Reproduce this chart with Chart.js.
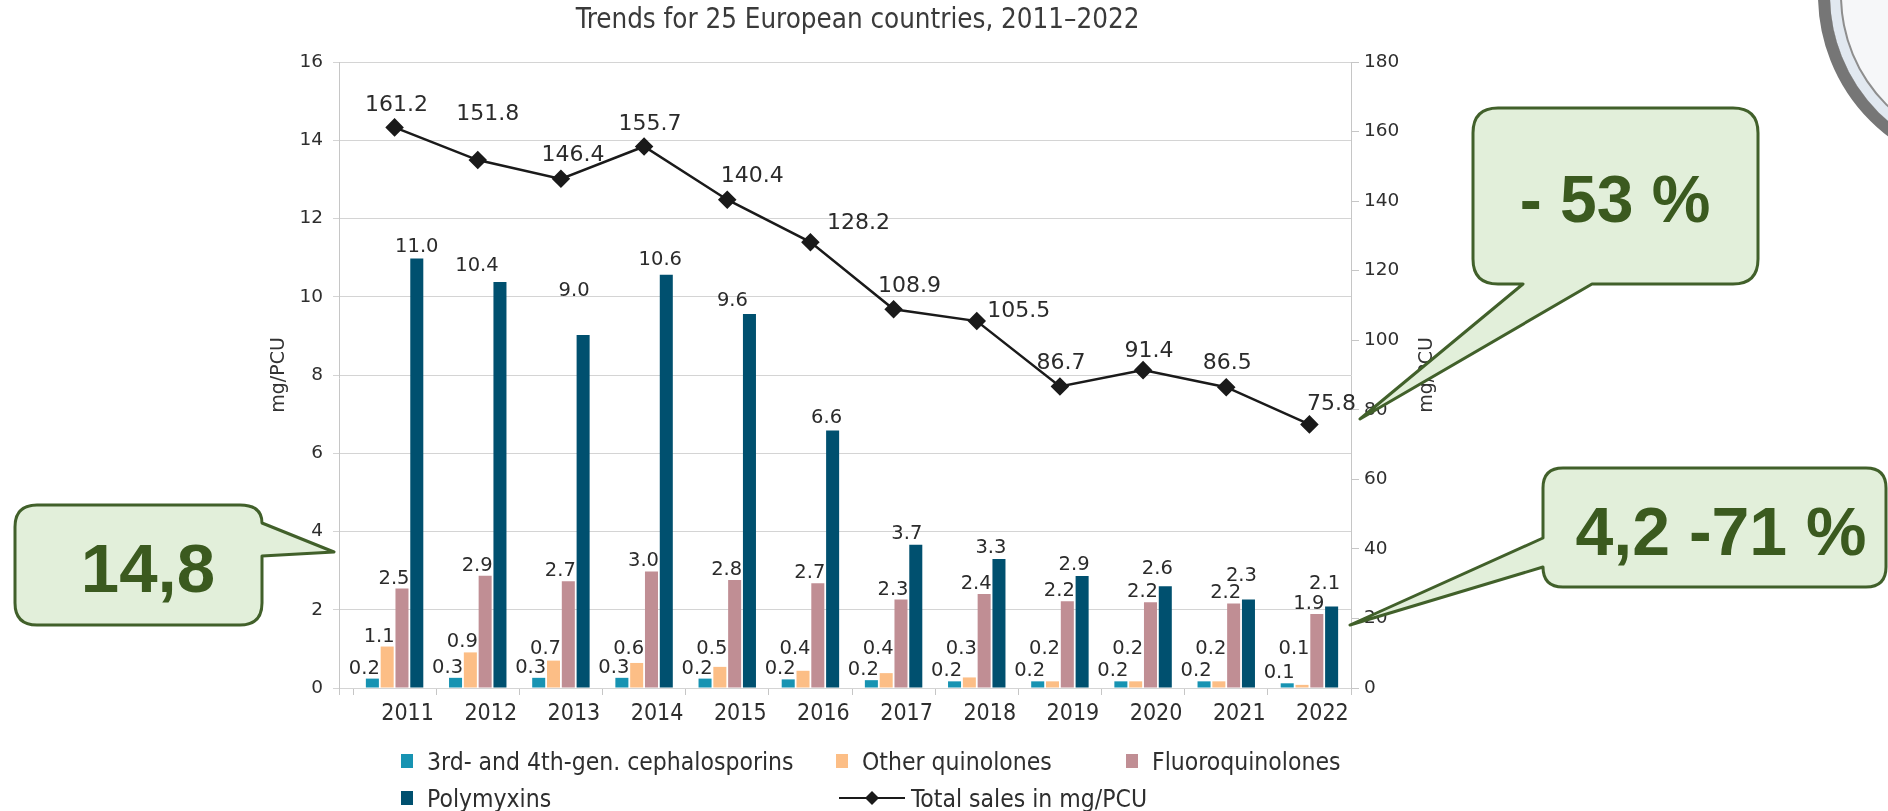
<!DOCTYPE html>
<html><head><meta charset="utf-8">
<script src="https://cdn.jsdelivr.net/npm/chart.js@4.4.1/dist/chart.umd.min.js"></script>
<style>
html,body{margin:0;padding:0;background:#fff;}
#wrap{position:relative;width:1888px;height:811px;overflow:hidden;background:#fff;}
#c{position:absolute;left:0;top:0;}
#overlay{position:absolute;left:0;top:0;}
#legend{position:absolute;left:0;top:0;width:1888px;height:811px;pointer-events:none;}
.li{position:absolute;height:30px;display:flex;align-items:center;font-family:"DejaVu Sans Condensed","DejaVu Sans",sans-serif;font-size:24.5px;color:#2e2e2e;white-space:nowrap;}
.logo{position:absolute;left:1818px;top:-183px;width:332px;height:332px;border-radius:50%;border:12px solid #767676;box-shadow:inset 0 0 0 10px #e1e8f0, inset 0 0 0 12px #8e8e8e;background:#f6f7f9;}
</style></head>
<body>
<div id="wrap">
<canvas id="c" width="1888" height="811"></canvas>
<div id="legend"></div>
<div class="logo"></div>
<svg id="overlay" width="1888" height="811" xmlns="http://www.w3.org/2000/svg">
  <g fill="#e2efda" stroke="#41602a" stroke-width="3" stroke-linejoin="round">
    <path d="M37 505 L240 505 Q262 505 262 523 L334 552 L262 556 L262 603 Q262 625 240 625 L37 625 Q15 625 15 603 L15 527 Q15 505 37 505 Z"/>
    <path d="M1498 108 L1733 108 Q1758 108 1758 133 L1758 259 Q1758 284 1733 284 L1592 284 L1360 419 L1523 284 L1498 284 Q1473 284 1473 259 L1473 133 Q1473 108 1498 108 Z"/>
    <path d="M1563 468 L1866 468 Q1886 468 1886 488 L1886 567 Q1886 587 1866 587 L1563 587 Q1543 587 1543 567 L1350 625 L1543 538 L1543 488 Q1543 468 1563 468 Z"/>
  </g>
  <g fill="#3b5a1f" font-family="'Liberation Sans',Arial,sans-serif" font-weight="bold" text-anchor="middle">
    <text x="148" y="592" font-size="69">14,8</text>
    <text x="1615" y="222" font-size="66">- 53 %</text>
    <text x="1721" y="555" font-size="68">4,2 -71 %</text>
  </g>
</svg>
</div>
<script>
// ---- data ----
const years = ['2011','2012','2013','2014','2015','2016','2017','2018','2019','2020','2021','2022'];
const cephalosporins = [0.24,0.26,0.26,0.26,0.24,0.22,0.20,0.17,0.17,0.17,0.17,0.12];
const otherQuinolones = [1.06,0.91,0.70,0.64,0.54,0.44,0.38,0.27,0.17,0.17,0.17,0.08];
const fluoroquinolones = [2.54,2.87,2.73,2.98,2.76,2.68,2.26,2.40,2.22,2.19,2.16,1.89];
const polymyxins = [10.98,10.38,9.02,10.56,9.56,6.58,3.66,3.30,2.86,2.60,2.26,2.08];
const totalSales = [161.2,151.8,146.4,155.7,140.4,128.2,108.9,105.5,86.7,91.4,86.5,75.8];
const leftAxisRange = [0, 16, 2];
const rightAxisRange = [0, 180, 20];

const seriesNames = ['3rd- and 4th-gen. cephalosporins','Other quinolones','Fluoroquinolones','Polymyxins','Total sales in mg/PCU'];
const seriesColors = ['#1793b2','#fcbe86','#c08e94','#00506f','#1a1a1a'];

// label nudges (style, not data)
const darkLabelDx = [0,-23,-9,-6,-17,-6,-9,-8,-8,-8,-7,-7];
const darkLabelDy = [0,-5,-33,-4,-2,-2,0,0,0,-6,-13,-12];
const lineLabelOffsets = [[2,-22],[10,-46],[12,-24],[6,-22],[25,-23],[48,-19],[16,-23],[42,-10],[1,-23],[6,-19],[1,-24],[22,-20]];

const labelFont = '19.5px "DejaVu Sans", Verdana, sans-serif';
const lineLabelFont = '22px "DejaVu Sans", Verdana, sans-serif';

const labelPlugin = {
  id: 'valueLabels',
  beforeDatasetsDraw(chart) {
    const {ctx, chartArea} = chart;
    ctx.save();
    ctx.strokeStyle = '#c6c6c6';
    ctx.lineWidth = 1;
    const x = Math.round(chartArea.left - 14) + 0.5;
    ctx.beginPath();
    ctx.moveTo(x, chartArea.top);
    ctx.lineTo(x, chartArea.bottom + 7);
    ctx.stroke();
    ctx.restore();
  },
  afterDatasetsDraw(chart) {
    const {ctx} = chart;
    ctx.save();
    ctx.fillStyle = '#2b2b2b';
    ctx.textAlign = 'center';
    ctx.textBaseline = 'alphabetic';
    ctx.font = labelFont;
    for (let d = 0; d < 4; d++) {
      const meta = chart.getDatasetMeta(d);
      const vals = chart.data.datasets[d].data;
      meta.data.forEach((el, i) => {
        const txt = vals[i].toFixed(1);
        let x = el.x - 8, y = el.y - 5;
        if (d === 1) y = Math.min(el.y - 5, chart.scales.y.getPixelForValue(0.88));
        if (d === 3) { x = el.x + darkLabelDx[i]; y = el.y - 6 + darkLabelDy[i]; }
        ctx.fillText(txt, x, y);
      });
    }
    const lm = chart.getDatasetMeta(4);
    ctx.font = lineLabelFont;
    ctx.textBaseline = 'middle';
    lm.data.forEach((pt, i) => {
      const o = lineLabelOffsets[i];
      ctx.fillText(chart.data.datasets[4].data[i].toFixed(1), pt.x + o[0], pt.y + o[1]);
    });
    // right axis title (reads bottom to top)
    ctx.translate(1427, (chart.chartArea.top + chart.chartArea.bottom) / 2);
    ctx.rotate(-Math.PI / 2);
    ctx.font = '19px "DejaVu Sans", Verdana, sans-serif';
    ctx.fillStyle = '#333';
    ctx.fillText('mg/PCU', 0, 0);
    ctx.restore();
  }
};

const barDs = (i, data) => ({
  type: 'bar', label: seriesNames[i], data, backgroundColor: seriesColors[i],
  yAxisID: 'y', order: 2, categoryPercentage: 0.712, barPercentage: 0.88
});

const chart = new Chart(document.getElementById('c'), {
  data: {
    labels: years,
    datasets: [
      barDs(0, cephalosporins),
      barDs(1, otherQuinolones),
      barDs(2, fluoroquinolones),
      barDs(3, polymyxins),
      { type: 'line', label: seriesNames[4], data: totalSales, yAxisID: 'y1', order: 1,
        borderColor: seriesColors[4], borderWidth: 2.5, pointStyle: 'rectRot', pointRadius: 7.5,
        pointBackgroundColor: seriesColors[4], pointBorderColor: seriesColors[4], tension: 0 }
    ]
  },
  options: {
    responsive: false, animation: false, devicePixelRatio: 1,
    layout: { padding: { left: 264, right: 437, top: 0, bottom: 0 } },
    plugins: {
      legend: { display: false }, tooltip: { enabled: false },
      title: { display: true, text: 'Trends for 25 European countries, 2011–2022', color: '#3a3a3a',
        font: { family: '"DejaVu Sans Condensed","DejaVu Sans",sans-serif', size: 27.5, weight: 'normal' },
        padding: { top: 4, bottom: 25 } }
    },
    scales: {
      x: {
        offset: true,
        grid: { display: true, drawOnChartArea: false, drawTicks: true, tickLength: 7, offset: true, color: '#c6c6c6' },
        border: { display: false },
        ticks: { color: '#2e2e2e', padding: 5, labelOffset: 13, maxRotation: 0,
          font: { family: '"DejaVu Sans Condensed","DejaVu Sans",sans-serif', size: 23 } },
        afterFit(s) { s.height = 123; }
      },
      y: {
        position: 'left', min: leftAxisRange[0], max: leftAxisRange[1],
        ticks: { stepSize: leftAxisRange[2], color: '#2e2e2e', padding: 10,
          font: { family: '"DejaVu Sans", Verdana, sans-serif', size: 18.5 } },
        grid: { color: '#d4d4d4', tickLength: 20, drawTicks: true },
        border: { display: false },
        title: { display: true, text: 'mg/PCU', color: '#333',
          font: { family: '"DejaVu Sans", Verdana, sans-serif', size: 19 } },
        afterFit(s) { s.width = 89; }
      },
      y1: {
        position: 'right', min: rightAxisRange[0], max: rightAxisRange[1],
        ticks: { stepSize: rightAxisRange[2], color: '#2e2e2e', padding: 5,
          font: { family: '"DejaVu Sans", Verdana, sans-serif', size: 18.5 } },
        grid: { drawOnChartArea: false, drawTicks: true, tickLength: 8, color: '#c6c6c6' },
        border: { display: true, color: '#c6c6c6' },
        afterFit(s) { s.width = 100; }
      }
    }
  },
  plugins: [labelPlugin]
});

// HTML legend built from datasets
const legendPos = [[401,761],[836,761],[1126,761],[401,798],[839,798]];
const lg = document.getElementById('legend');
chart.data.datasets.forEach((ds, i) => {
  const [lx, ly] = legendPos[i];
  const item = document.createElement('div');
  item.className = 'li';
  item.style.left = lx + 'px';
  item.style.top = (ly - 15) + 'px';
  if (ds.type === 'bar') {
    item.innerHTML = '<span style="display:inline-block;width:12px;height:14px;background:' + ds.backgroundColor + ';margin-right:14px"></span>';
  } else {
    item.innerHTML = '<svg width="66" height="16" style="margin-right:6px"><line x1="0" y1="8" x2="66" y2="8" stroke="' + ds.borderColor + '" stroke-width="2"/><path d="M33 1 L40 8 L33 15 L26 8 Z" fill="' + ds.borderColor + '"/></svg>';
  }
  const t = document.createElement('span');
  t.textContent = ds.label;
  item.appendChild(t);
  lg.appendChild(item);
});
</script>
</body></html>
